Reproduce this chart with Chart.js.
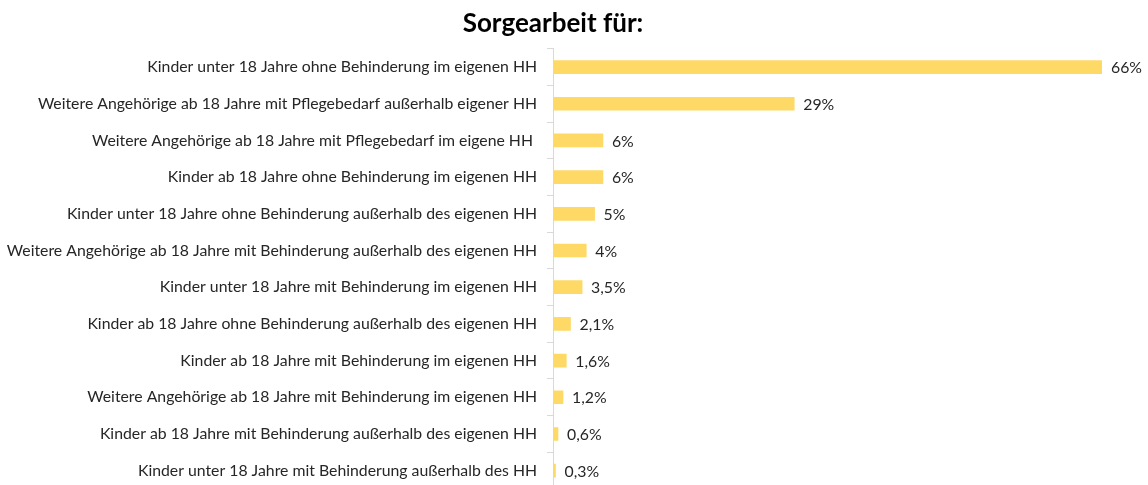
<!DOCTYPE html>
<html>
<head>
<meta charset="utf-8">
<script src="https://cdn.jsdelivr.net/npm/chart.js@4"></script>
<style>
  html, body { margin: 0; padding: 0; background: #fff; overflow: hidden; height: 485px; }
  canvas { display: block; }
</style>
</head>
<body>
<canvas id="sorge" width="1148" height="489"></canvas>
<script>
var kategorien = [
  "Kinder unter 18 Jahre ohne Behinderung im eigenen HH",
  "Weitere Angehörige ab 18 Jahre mit Pflegebedarf außerhalb eigener HH",
  "Weitere Angehörige ab 18 Jahre mit Pflegebedarf im eigene HH ",
  "Kinder ab 18 Jahre ohne Behinderung im eigenen HH",
  "Kinder unter 18 Jahre ohne Behinderung außerhalb des eigenen HH",
  "Weitere Angehörige ab 18 Jahre mit Behinderung außerhalb des eigenen HH",
  "Kinder unter 18 Jahre mit Behinderung im eigenen HH",
  "Kinder ab 18 Jahre ohne Behinderung außerhalb des eigenen HH",
  "Kinder ab 18 Jahre mit Behinderung im eigenen HH",
  "Weitere Angehörige ab 18 Jahre mit Behinderung im eigenen HH",
  "Kinder ab 18 Jahre mit Behinderung außerhalb des eigenen HH",
  "Kinder unter 18 Jahre mit Behinderung außerhalb des HH"
];
var werte = [66, 29, 6, 6, 5, 4, 3.5, 2.1, 1.6, 1.2, 0.6, 0.3];
var beschriftung = ["66%", "29%", "6%", "6%", "5%", "4%", "3,5%", "2,1%", "1,6%", "1,2%", "0,6%", "0,3%"];

var schrift = "Lato, 'Open Sans', sans-serif";

// Prozentwerte rechts neben die Balken schreiben
var wertLabels = {
  id: 'wertLabels',
  afterDatasetsDraw: function (chart) {
    var ctx = chart.ctx;
    var meta = chart.getDatasetMeta(0);
    ctx.save();
    ctx.font = "15.8px " + schrift;
    ctx.fillStyle = "#262626";
    ctx.textBaseline = "middle";
    ctx.textAlign = "left";
    meta.data.forEach(function (bar, i) {
      ctx.fillText(beschriftung[i], bar.x + 9, bar.y + 1);
    });
    ctx.restore();
  }
};

var ctx = document.getElementById("sorge").getContext('2d');
var chart = new Chart(ctx, {
  type: 'bar',
  data: {
    labels: kategorien,
    datasets: [{
      data: werte,
      backgroundColor: '#FFD966',
      barThickness: 13
    }]
  },
  options: {
    indexAxis: 'y',
    responsive: false,
    animation: false,
    layout: {
      padding: { left: 4, right: 46, top: 0, bottom: 0 }
    },
    plugins: {
      legend: { display: false },
      tooltip: { enabled: false },
      title: {
        display: true,
        text: "Sorgearbeit für:",
        color: "#000",
        font: { family: schrift, size: 26, weight: 'bold' },
        padding: { top: 8, bottom: 9.5 }
      }
    },
    scales: {
      x: {
        display: false,
        min: 0,
        max: 66
      },
      y: {
        // Platz fuer Beschriftung oben/unten nicht reservieren
        afterFit: function (scale) {
          scale.paddingTop = 0;
          scale.paddingBottom = 0;
        },
        grid: {
          offset: true,
          drawOnChartArea: false,
          color: '#d9d9d9',
          tickLength: 6
        },
        border: { color: '#d9d9d9' },
        ticks: {
          color: "#262626",
          padding: 10,
          font: { family: schrift, size: 15.8 }
        }
      }
    }
  },
  plugins: [wertLabels]
});
</script>
</body>
</html>
